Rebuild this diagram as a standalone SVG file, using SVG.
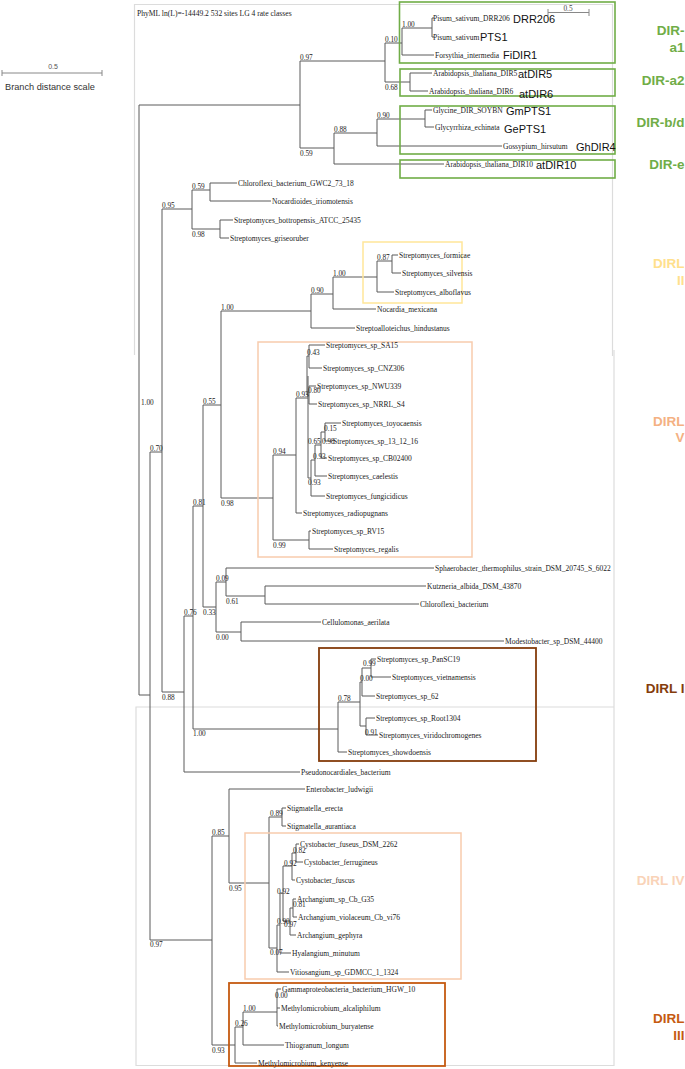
<svg xmlns="http://www.w3.org/2000/svg" width="685" height="1069" viewBox="0 0 685 1069">
<style>
.br{fill:none;stroke:#5a5a5a;stroke-width:1}
.pn{fill:none;stroke:#dcdcdc;stroke-width:1.2}
.lf{font-family:"Liberation Serif",serif;font-size:7.5px;fill:#1a1a1a}
.sv{font-family:"Liberation Serif",serif;font-size:7.3px;fill:#222}
.gn{font-family:"Liberation Sans",Arial,sans-serif;font-size:11px;fill:#111}
.cl{font-family:"Liberation Sans",Arial,sans-serif;font-size:13.5px;font-weight:bold;text-anchor:end}
.bx{fill:none}
</style>
<rect width="685" height="1069" fill="#fff"/>
<g id="panels">
<path class="pn" d="M134.5,355 V4.5 H612.5 V356"/>
<path class="pn" d="M614,350 V1065.5 H136 V707 H614"/>
</g>
<g id="header">
<text class="lf" x="137" y="16" style="font-size:7.6px">PhyML ln(L)=-14449.2 532 sites LG 4 rate classes</text>
</g>
<g id="scale-left">
<path d="M2,73 H102 M2,70 V76 M102,70 V76" stroke="#888" stroke-width="1" fill="none"/>
<text x="53" y="69" text-anchor="middle" style="font-family:'Liberation Sans',sans-serif;font-size:7px;fill:#555">0.5</text>
<text x="5" y="90" style="font-family:'Liberation Sans',sans-serif;font-size:9.2px;fill:#333">Branch distance scale</text>
</g>
<g id="scale-top">
<path d="M548,12.5 H589 M548,9 V16 M589,9 V16" stroke="#888" stroke-width="1" fill="none"/>
<text x="568" y="11" text-anchor="middle" style="font-family:'Liberation Serif',serif;font-size:7.3px;fill:#444">0.5</text>
</g>
<g id="connectors">
<path class="br" d="M139,105 V695 H150 M139,105 H300 M300,61 V148 M300,61 H385 M385,43 V82 M385,43 H402 M402,28 V55 M402,28 H432 M432,18 V37 M432,18 H434 M432,37 H434 M402,55 H434 M385,82 H410 M410,73 V91 M410,73 H432 M410,91 H428 M300,148 H334 M334,133 V164 M334,133 H377 M377,119 V146 M377,119 H425 M425,110 V127 M425,110 H432 M425,127 H434 M377,146 H502 M334,164 H444"/>
<path class="br" d="M150,452 V940 M150,452 H162 M162,209 V692 M162,209 H192 M192,190 V229 M192,190 H210 M210,183 V201 M210,183 H237 M210,201 H271 M192,229 H220 M220,220 V238 M220,220 H233 M220,238 H229 M162,692 H184 M184,616 V772 M184,616 H193 M193,506 V729 M193,506 H203 M203,405 V607 M203,405 H221 M221,311 V498 M221,311 H311 M311,294 V328 M311,294 H333 M333,277 V309 M333,277 H377 M377,261 V292 M377,261 H392 M392,255 V273 M392,255 H398 M392,273 H401 M377,292 H394 M333,309 H376 M311,328 H355"/>
<path class="br" d="M221,498 H273 M273,455 V540 M273,455 H296 M296,398 V513 M296,513 H302 M273,540 H309 M309,531 V549 M309,531 H311 M309,549 H333 M296,398 H308 M308,376 V478 M307,356 V395 M307,356 H309 M307,395 H309 M309,345 V368 M309,345 H325 M309,368 H322 M309,386 V404 M309,386 H316 M309,404 H317 M308,478 H311 M311,460 V496 M311,496 H325 M311,460 H315 M315,445 V476 M315,476 H327 M315,445 H321 M321,432 V458 M321,458 H327 M321,432 H325 M325,423 V441 M325,423 H341 M325,441 H332"/>
<path class="br" d="M203,607 H216 M216,582 V632 M216,582 H226 M226,568 V596 M226,568 H434 M226,596 H265 M265,586 V604 M265,586 H426 M265,604 H419 M216,632 H241 M241,622 V641 M241,622 H321 M241,641 H504 M193,729 H338 M338,702 V752 M338,752 H347 M338,702 H360 M360,682 V726 M360,682 H362 M362,668 V696 M362,668 H371 M371,659 V677 M371,659 H376 M371,677 H391 M362,696 H375 M360,726 H366 M366,718 V735 M366,718 H375 M366,735 H378 M184,772 H300"/>
<path class="br" d="M150,940 H212 M212,836 V1045 M212,836 H229 M229,789 V883 M229,789 H305 M229,883 H269 M269,817 V948 M269,817 H282 M282,808 V826 M282,808 H286 M282,826 H286 M269,948 H277 M277,925 V972 M277,972 H289 M277,925 H280 M280,893 V953 M280,953 H291 M280,893 H283 M283,866 V921 M283,866 H292 M292,853 V880 M292,880 H295 M292,853 H296 M296,844 V862 M296,844 H299 M296,862 H303 M283,921 H290 M290,908 V935 M290,935 H296 M290,908 H293 M293,899 V917 M293,899 H296 M293,917 H297"/>
<path class="br" d="M212,1045 H235 M235,1027 V1063 M235,1027 H243 M243,1012 V1045 M243,1012 H277 M277,989 V1026 M277,989 H281 M277,1008 H280 M277,1026 H278 M243,1045 H284 M235,1063 H257"/>
</g>
<g id="boxes">
<rect class="bx" x="399.5" y="2" width="215.5" height="61" stroke="#70ad47" stroke-width="1.6"/>
<rect class="bx" x="400" y="69" width="215" height="27" stroke="#70ad47" stroke-width="1.6"/>
<rect class="bx" x="400" y="106" width="215" height="48" stroke="#70ad47" stroke-width="1.6"/>
<rect class="bx" x="400" y="160" width="215" height="18" stroke="#70ad47" stroke-width="1.6"/>
<rect class="bx" x="363" y="242" width="99" height="61" stroke="#ffe699" stroke-width="1.5"/>
<rect class="bx" x="258" y="342" width="214" height="215" stroke="#f8cbad" stroke-width="1.5"/>
<rect class="bx" x="319" y="648" width="217" height="113" stroke="#843c0c" stroke-width="1.8"/>
<rect class="bx" x="245" y="833" width="216" height="146" stroke="#f8cbad" stroke-width="1.5"/>
<rect class="bx" x="229" y="983" width="216" height="83" stroke="#c55a11" stroke-width="1.8"/>
</g>
<g id="clade-labels">
<text class="cl" x="684.5" y="35" fill="#70ad47">DIR-</text>
<text class="cl" x="684.5" y="52" fill="#70ad47">a1</text>
<text class="cl" x="684.5" y="85" fill="#70ad47">DIR-a2</text>
<text class="cl" x="684.5" y="127" fill="#70ad47">DIR-b/d</text>
<text class="cl" x="684.5" y="169" fill="#70ad47">DIR-e</text>
<text class="cl" x="684.5" y="268" fill="#ffe08c">DIRL</text>
<text class="cl" x="684.5" y="285" fill="#ffe08c">II</text>
<text class="cl" x="684.5" y="426" fill="#f4b183">DIRL</text>
<text class="cl" x="684.5" y="442" fill="#f4b183">V</text>
<text class="cl" x="684.5" y="693" fill="#843c0c">DIRL I</text>
<text class="cl" x="684.5" y="885" fill="#f9d3b8">DIRL IV</text>
<text class="cl" x="684.5" y="1023" fill="#c55a11">DIRL</text>
<text class="cl" x="684.5" y="1040" fill="#c55a11">III</text>
</g>
<g id="gene-names">
<text class="gn" x="513" y="23">DRR206</text>
<text class="gn" x="480" y="41">PTS1</text>
<text class="gn" x="503" y="59">FiDIR1</text>
<text class="gn" x="518" y="78">atDIR5</text>
<text class="gn" x="519" y="98">atDIR6</text>
<text class="gn" x="506" y="115">GmPTS1</text>
<text class="gn" x="504" y="133">GePTS1</text>
<text class="gn" x="576" y="151">GhDIR4</text>
<text class="gn" x="536" y="169">atDIR10</text>
</g>
<g id="leaves-dir">
<text class="lf" x="433" y="20.5">Pisum_sativum_DRR206</text>
<text class="lf" x="433" y="39.5">Pisum_sativum</text>
<text class="lf" x="435" y="57.5">Forsythia_intermedia</text>
<text class="lf" x="433" y="75.5">Arabidopsis_thaliana_DIR5</text>
<text class="lf" x="429" y="93.5">Arabidopsis_thaliana_DIR6</text>
<text class="lf" x="433" y="112.5">Glycine_DIR_SOYBN</text>
<text class="lf" x="435" y="129.5">Glycyrrhiza_echinata</text>
<text class="lf" x="503" y="148.5">Gossypium_hirsutum</text>
<text class="lf" x="445" y="166.5">Arabidopsis_thaliana_DIR10</text>
</g>
<g id="leaves-upper">
<text class="lf" x="238" y="185.5">Chloroflexi_bacterium_GWC2_73_18</text>
<text class="lf" x="272" y="203.5">Nocardioides_iriomotensis</text>
<text class="lf" x="234" y="222.5">Streptomyces_bottropensis_ATCC_25435</text>
<text class="lf" x="230" y="240.5">Streptomyces_griseoruber</text>
<text class="lf" x="399" y="257.5">Streptomyces_formicae</text>
<text class="lf" x="402" y="275.5">Streptomyces_silvensis</text>
<text class="lf" x="395" y="294.5">Streptomyces_alboflavus</text>
<text class="lf" x="377" y="311.5">Nocardia_mexicana</text>
<text class="lf" x="356" y="330.5">Streptoalloteichus_hindustanus</text>
</g>
<g id="leaves-dirl-v">
<text class="lf" x="326" y="347.5">Streptomyces_sp_SA15</text>
<text class="lf" x="323" y="370.5">Streptomyces_sp_CNZ306</text>
<text class="lf" x="317" y="388.5">Streptomyces_sp_NWU339</text>
<text class="lf" x="318" y="406.5">Streptomyces_sp_NRRL_S4</text>
<text class="lf" x="342" y="425.5">Streptomyces_toyocaensis</text>
<text class="lf" x="333" y="443.5">Streptomyces_sp_13_12_16</text>
<text class="lf" x="328" y="460.5">Streptomyces_sp_CB02400</text>
<text class="lf" x="328" y="478.5">Streptomyces_caelestis</text>
<text class="lf" x="326" y="498.5">Streptomyces_fungicidicus</text>
<text class="lf" x="303" y="515.5">Streptomyces_radiopugnans</text>
<text class="lf" x="312" y="533.5">Streptomyces_sp_RV15</text>
<text class="lf" x="334" y="551.5">Streptomyces_regalis</text>
</g>
<g id="leaves-mid">
<text class="lf" x="435" y="570.5">Sphaerobacter_thermophilus_strain_DSM_20745_S_6022</text>
<text class="lf" x="427" y="588.5">Kutzneria_albida_DSM_43870</text>
<text class="lf" x="420" y="606.5">Chloroflexi_bacterium</text>
<text class="lf" x="322" y="624.5">Cellulomonas_aerilata</text>
<text class="lf" x="505" y="643.5">Modestobacter_sp_DSM_44400</text>
</g>
<g id="leaves-dirl-i">
<text class="lf" x="377" y="661.5">Streptomyces_sp_PanSC19</text>
<text class="lf" x="392" y="679.5">Streptomyces_vietnamensis</text>
<text class="lf" x="376" y="698.5">Streptomyces_sp_62</text>
<text class="lf" x="376" y="720.5">Streptomyces_sp_Root1304</text>
<text class="lf" x="379" y="737.5">Streptomyces_viridochromogenes</text>
<text class="lf" x="348" y="754.5">Streptomyces_showdoensis</text>
</g>
<g id="leaves-lower">
<text class="lf" x="301" y="774.5">Pseudonocardiales_bacterium</text>
<text class="lf" x="306" y="791.5">Enterobacter_ludwigii</text>
<text class="lf" x="287" y="810.5">Stigmatella_erecta</text>
<text class="lf" x="287" y="828.5">Stigmatella_aurantiaca</text>
<text class="lf" x="300" y="846.5">Cystobacter_fuseus_DSM_2262</text>
<text class="lf" x="304" y="864.5">Cystobacter_ferrugineus</text>
<text class="lf" x="296" y="882.5">Cystobacter_fuscus</text>
<text class="lf" x="297" y="901.5">Archangium_sp_Cb_G35</text>
<text class="lf" x="298" y="919.5">Archangium_violaceum_Cb_vi76</text>
<text class="lf" x="297" y="937.5">Archangium_gephyra</text>
<text class="lf" x="292" y="955.5">Hyalangium_minutum</text>
<text class="lf" x="290" y="974.5">Vitiosangium_sp_GDMCC_1_1324</text>
<text class="lf" x="282" y="991.5">Gammaproteobacteria_bacterium_HGW_10</text>
<text class="lf" x="281" y="1010.5">Methylomicrobium_alcaliphilum</text>
<text class="lf" x="279" y="1028.5">Methylomicrobium_buryatense</text>
<text class="lf" x="285" y="1047.5">Thiogranum_longum</text>
<text class="lf" x="258" y="1065.5">Methylomicrobium_kenyense</text>
</g>
<g id="support-values">
<text class="sv" x="300" y="60">0.97</text>
<text class="sv" x="300" y="156">0.59</text>
<text class="sv" x="385" y="42">0.10</text>
<text class="sv" x="385" y="90">0.68</text>
<text class="sv" x="402" y="27">1.00</text>
<text class="sv" x="334" y="132">0.88</text>
<text class="sv" x="377" y="118">0.90</text>
<text class="sv" x="141" y="405">1.00</text>
<text class="sv" x="150" y="451">0.70</text>
<text class="sv" x="162" y="208">0.95</text>
<text class="sv" x="192" y="189">0.59</text>
<text class="sv" x="192" y="237">0.98</text>
<text class="sv" x="221" y="310">1.00</text>
<text class="sv" x="311" y="293">0.90</text>
<text class="sv" x="333" y="276">1.00</text>
<text class="sv" x="377" y="260">0.87</text>
<text class="sv" x="203" y="404">0.55</text>
<text class="sv" x="221" y="506">0.98</text>
<text class="sv" x="273" y="454">0.94</text>
<text class="sv" x="273" y="548">0.99</text>
<text class="sv" x="296" y="397">0.93</text>
<text class="sv" x="307" y="355">0.43</text>
<text class="sv" x="308" y="393">0.80</text>
<text class="sv" x="324" y="431">0.15</text>
<text class="sv" x="308" y="444">0.65</text>
<text class="sv" x="322" y="444">0.98</text>
<text class="sv" x="313" y="459">0.93</text>
<text class="sv" x="308" y="485">0.93</text>
<text class="sv" x="193" y="505">0.81</text>
<text class="sv" x="184" y="615">0.76</text>
<text class="sv" x="162" y="700">0.88</text>
<text class="sv" x="203" y="615">0.33</text>
<text class="sv" x="216" y="581">0.09</text>
<text class="sv" x="216" y="640">0.00</text>
<text class="sv" x="226" y="604">0.61</text>
<text class="sv" x="193" y="736">1.00</text>
<text class="sv" x="338" y="701">0.78</text>
<text class="sv" x="363" y="666">0.99</text>
<text class="sv" x="360" y="681">0.00</text>
<text class="sv" x="365" y="735">0.91</text>
<text class="sv" x="150" y="947">0.97</text>
<text class="sv" x="212" y="835">0.85</text>
<text class="sv" x="229" y="891">0.95</text>
<text class="sv" x="270" y="816">0.89</text>
<text class="sv" x="293" y="853">0.82</text>
<text class="sv" x="284" y="866">0.92</text>
<text class="sv" x="277" y="894">0.92</text>
<text class="sv" x="293" y="907">0.81</text>
<text class="sv" x="277" y="924">0.90</text>
<text class="sv" x="284" y="927">0.97</text>
<text class="sv" x="270" y="955">0.07</text>
<text class="sv" x="212" y="1053">0.93</text>
<text class="sv" x="235" y="1026">0.26</text>
<text class="sv" x="243" y="1011">1.00</text>
<text class="sv" x="275" y="998">0.00</text>
</g>
</svg>
